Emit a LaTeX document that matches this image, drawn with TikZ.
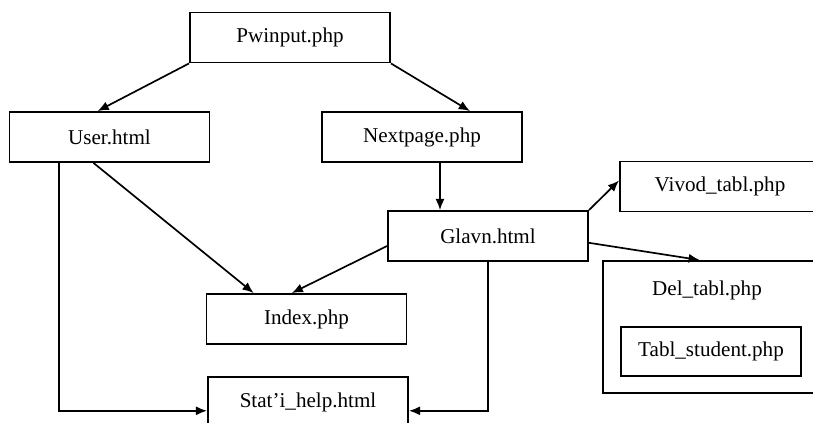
\documentclass[tikz,border=0pt]{standalone}
\usepackage{fontspec}
\setmainfont{Liberation Serif}
\usetikzlibrary{arrows.meta}

\tikzset{
  page/.style={draw,line width=1.3pt,minimum width=5cm,minimum height=1.25cm,inner sep=0pt,font=\fontsize{15}{18}\selectfont},
  link/.style={line width=1.2pt,-{Latex[length=8pt,width=6.5pt]}}
}

\begin{document}
\begin{tikzpicture}[x=0.025cm,y=-0.025cm]
\useasboundingbox (0,0) rectangle (813,422);
\clip (0,0) rectangle (813,422);

\node[page] (pw) at (290,37.5) {Pwinput.php};
\node[page] (user) at (109.5,137) {User.html};
\node[page] (next) at (422,137) {Nextpage.php};
\node[page] (glavn) at (488,236) {Glavn.html};
\node[page,minimum width=5.4cm,text width=5cm,align=center] (vivod) at (728,186.5) {\hspace*{-0.4cm}Vivod\_tabl.php};
\node[page] (index) at (306.5,319) {Index.php};
\node[page] (stat) at (308,402) {Stat’i\_help.html};

\node[page,minimum width=5.6cm,minimum height=3.3cm] (del) at (715,327) {};
\node[font=\fontsize{15}{18}\selectfont] (deltext) at (707,290) {Del\_tabl.php};
\node[page,minimum width=4.5cm,minimum height=1.22cm] (tabl) at (711,351.5) {Tabl\_student.php};

\draw[link] (pw.south west) -- ([xshift=-0.3cm]user.north);
\draw[link] (pw.south east) -- ([xshift=1.2cm]next.north);
\draw[link] ([xshift=0.45cm]next.south) -- ([xshift=-1.2cm]glavn.north);
\draw[link] ([xshift=-0.4cm]user.south) -- ([xshift=-1.32cm]index.north);
\draw[link] ([yshift=-0.25cm]glavn.west) -- ([xshift=-0.37cm]index.north);
\draw[link] ([xshift=-1.26cm]user.south) |- ([yshift=-0.22cm]stat.west);
\draw[link] (glavn.south) |- ([yshift=-0.22cm]stat.east);
\draw[link] (glavn.north east) -- ([yshift=0.15cm]vivod.west);
\draw[link] ([yshift=-0.17cm]glavn.east) -- ([xshift=-0.38cm]del.north);
\end{tikzpicture}
\end{document}
